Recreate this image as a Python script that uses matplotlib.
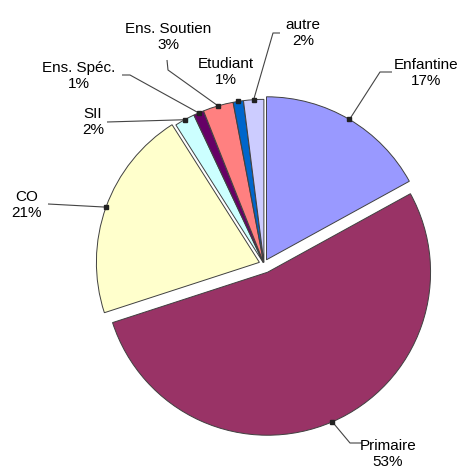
import numpy as np
import matplotlib.pyplot as plt

# Data
labels = ["Enfantine", "Primaire", "CO", "SII", "Ens. Spéc.", "Ens. Soutien", "Etudiant", "autre"]
shares = [17, 53, 21, 2, 1, 3, 1, 2]
colors = ["#9999FF", "#993366", "#FFFFCC", "#CCFFFF", "#660066", "#FF8080", "#0066CC", "#CCCCFF"]
explode = [0.03, 0.055, 0.03, 0.01, 0.01, 0.01, 0.01, 0.01]

# Layout, in pixels of the 458x469 picture (centre of the pie at CX, CY)
W, H = 458, 469
CX, CY, R = 264, 264, 163

# text centre and the elbow points of each leader line (from text side to slice)
label_pos = {
    "Enfantine": (426, 73),
    "Primaire": (388, 454),
    "CO": (27, 205),
    "SII": (93, 122),
    "Ens. Spéc.": (79, 76),
    "Ens. Soutien": (168, 37),
    "Etudiant": (226, 72),
    "autre": (303, 33),
}
elbows = {
    "Enfantine": [(392, 72), (380, 72)],
    "Primaire": [(362, 443), (350, 443)],
    "CO": [(48, 204)],
    "SII": [(107, 122)],
    "Ens. Spéc.": [(122, 75), (130, 75)],
    "Ens. Soutien": [(167, 60), (168, 70)],
    "Etudiant": [],
    "autre": [(280, 33), (273, 33)],
}


def to_data(px, py):
    return (px - CX) / R, (CY - py) / R


fig = plt.figure(figsize=(W / 100, H / 100), dpi=100)
ax = fig.add_axes([0, 0, 1, 1])

wedges, _ = ax.pie(shares, colors=colors, explode=explode, startangle=90,
                   counterclock=False, radius=1.0,
                   wedgeprops=dict(edgecolor="#404040", linewidth=0.7))

ax.set_xlim(-CX / R, (W - CX) / R)
ax.set_ylim(-(H - CY) / R, CY / R)
ax.set_aspect("auto")
ax.axis("off")

for wedge, name, share in zip(wedges, labels, shares):
    # anchor on the outer rim, at the middle of the slice
    mid = np.deg2rad((wedge.theta1 + wedge.theta2) / 2)
    cx, cy = wedge.center
    ax_pt = cx + wedge.r * np.cos(mid)
    ay_pt = cy + wedge.r * np.sin(mid)

    pts = [to_data(*p) for p in elbows[name]] + [(ax_pt, ay_pt)]
    if len(pts) > 1:
        xs, ys = zip(*pts)
        ax.plot(xs, ys, color="#444444", linewidth=0.8, solid_capstyle="butt")
    ax.plot(ax_pt, ay_pt, marker="s", markersize=2.5, color="#222222")

    tx, ty = to_data(*label_pos[name])
    ax.text(tx, ty, f"{name}\n{share}%", ha="center", va="center",
            fontsize=11, family="Liberation Sans", linespacing=1.1)

fig.savefig("out.png", dpi=100)
